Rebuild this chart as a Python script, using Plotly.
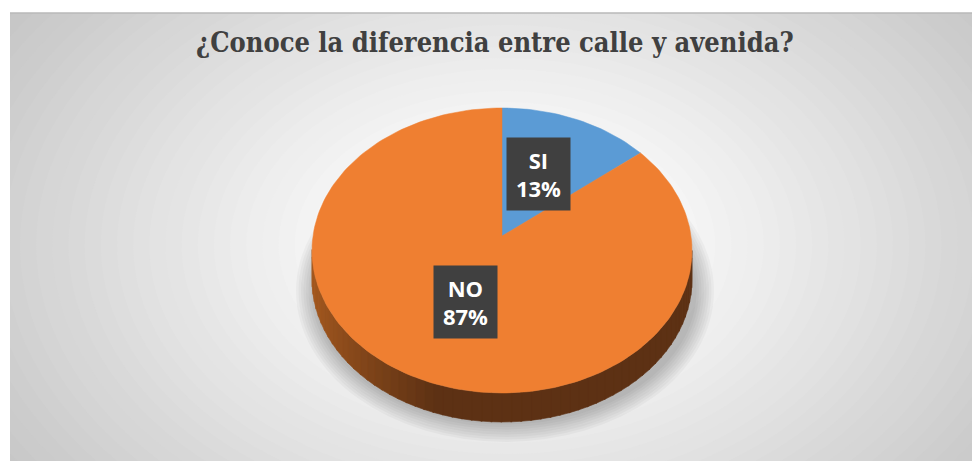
import numpy as np
import plotly.graph_objects as go

# ---------------- data ----------------
title_text = "¿Conoce la diferencia entre calle y avenida?"
categories = ["SI", "NO"]
values = [13, 87]
top_colors = ["#5b9bd5", "#ef7f31"]
side_light = ["#4a7fb0", "#a5591f"]
side_dark = ["#2c4f73", "#5d3114"]

# ---------------- geometry (pixel-like axes, reference coords) ----------------
W, H = 980, 461
OFF = 8                    # page body margin
CX, CY = 502, 250.5        # centre of top-face ellipse
RX, RY = 190, 142.5        # radii of top face
APEX_Y = 236               # projected pie centre (perspective)
DEPTH = 29                 # thickness of pie side


def rim(theta_deg, dy=0.0):
    t = np.radians(theta_deg)
    return CX + RX * np.sin(t), CY - RY * np.cos(t) + dy


def hex2rgb(h):
    h = h.lstrip("#")
    return np.array([int(h[i:i + 2], 16) for i in (0, 2, 4)], dtype=float)


def rgb2hex(c):
    c = np.clip(np.round(c), 0, 255).astype(int)
    return "#%02x%02x%02x" % tuple(c)


total = float(sum(values))
fracs = [v / total for v in values]
starts = np.concatenate([[0.0], np.cumsum(fracs)[:-1]]) * 360.0
ends = np.cumsum(fracs) * 360.0

fig = go.Figure()

# ---------------- side (front visible half: 90..270 deg) ----------------
for i, cat in enumerate(categories):
    a0, a1 = max(starts[i], 90.0), min(ends[i], 270.0)
    if a1 <= a0:
        continue
    n = max(2, int((a1 - a0) / 3))
    edges = np.linspace(a0, a1, n + 1)
    lc, dc = hex2rgb(side_light[i]), hex2rgb(side_dark[i])
    for k in range(n):
        ta, tb = edges[k], edges[k + 1] + 0.4
        xs_top_a, ys_top_a = rim(ta)
        xs_top_b, ys_top_b = rim(tb)
        xs_bot_b, ys_bot_b = rim(tb, DEPTH)
        xs_bot_a, ys_bot_a = rim(ta, DEPTH)
        xnorm = np.sin(np.radians((ta + tb) / 2))
        t = np.clip((xnorm + 1.0) / 0.65, 0, 1) ** 0.8
        col = rgb2hex(lc + (dc - lc) * t)
        fig.add_trace(go.Scatter(
            x=[xs_top_a, xs_top_b, xs_bot_b, xs_bot_a, xs_top_a],
            y=[ys_top_a, ys_top_b, ys_bot_b, ys_bot_a, ys_top_a],
            fill="toself", fillcolor=col, mode="lines",
            line=dict(color=col, width=0.6), hoverinfo="skip", showlegend=False))

# ---------------- top face ----------------
for i, cat in enumerate(categories):
    n = max(4, int((ends[i] - starts[i]) / 1.5))
    th = np.linspace(starts[i], ends[i], n)
    rx, ry = rim(th)
    xs = np.concatenate([[CX], rx, [CX]])
    ys = np.concatenate([[APEX_Y], ry, [APEX_Y]])
    fig.add_trace(go.Scatter(
        x=xs, y=ys, fill="toself", fillcolor=top_colors[i], mode="lines",
        line=dict(color=top_colors[i], width=0.5), name=cat,
        hoverinfo="skip", showlegend=False))

# ---------------- labels ----------------
for i, cat in enumerate(categories):
    mid = np.radians((starts[i] + ends[i]) / 2)
    f = 0.49
    lx = CX + f * RX * np.sin(mid)
    ly = APEX_Y - f * RY * np.cos(mid) + 2
    pct = round(values[i] / total * 100)
    fig.add_annotation(
        x=lx, y=ly, xref="x", yref="y", showarrow=False,
        text=f"<b>{cat}</b><br><b>{pct}%</b>", width=63, height=72,
        bgcolor="#404040", borderpad=0, align="center", valign="middle",
        font=dict(family="Open Sans", size=22, color="white"))

# ---------------- title ----------------
fig.add_annotation(
    x=0.5, xref="paper", y=42, yref="y", showarrow=False,
    text=f"<b>{title_text}</b>", xanchor="center", yanchor="middle",
    font=dict(family="DejaVu Serif Condensed, DejaVu Serif", size=27, color="#404040"))

# ---------------- background gradient & shadow ----------------
shapes = []
GCX, GCY, GHW, GHH = 505, 245, 485, 330
N = 45
c_out, c_in = np.array([194.0] * 3), np.array([255.0] * 3)
for k in range(N, 0, -1):
    r = 1.5 * k / N
    t = np.clip((r - 0.22) / (1.32 - 0.22), 0, 1)
    col = rgb2hex(c_in + (c_out - c_in) * t)
    shapes.append(dict(type="circle", xref="x", yref="y", layer="below",
                       x0=GCX - GHW * r, x1=GCX + GHW * r,
                       y0=GCY - GHH * r, y1=GCY + GHH * r,
                       fillcolor=col, line=dict(width=0)))
for k in range(8):
    g = k * 2.5
    shapes.append(dict(type="circle", xref="x", yref="y", layer="below",
                       x0=CX - RX - 16 + g, x1=CX + RX + 22 - g,
                       y0=140 + g, y1=442 - g,
                       fillcolor="rgba(0,0,0,0.03)", line=dict(width=0)))
shapes.append(dict(type="line", xref="paper", yref="paper", x0=0, x1=1, y0=1, y1=1,
                   line=dict(color="#b9b9b9", width=1.5)))

fig.update_layout(
    width=W - OFF, height=H - OFF,
    margin=dict(l=10 - OFF, r=0, t=13 - OFF, b=0, pad=0),
    paper_bgcolor="white", plot_bgcolor="#c8c8c8",
    shapes=shapes,
    xaxis=dict(range=[10, W], visible=False, fixedrange=True),
    yaxis=dict(range=[H, 13], visible=False, fixedrange=True),
    showlegend=False,
)

fig.write_html("out.html")
